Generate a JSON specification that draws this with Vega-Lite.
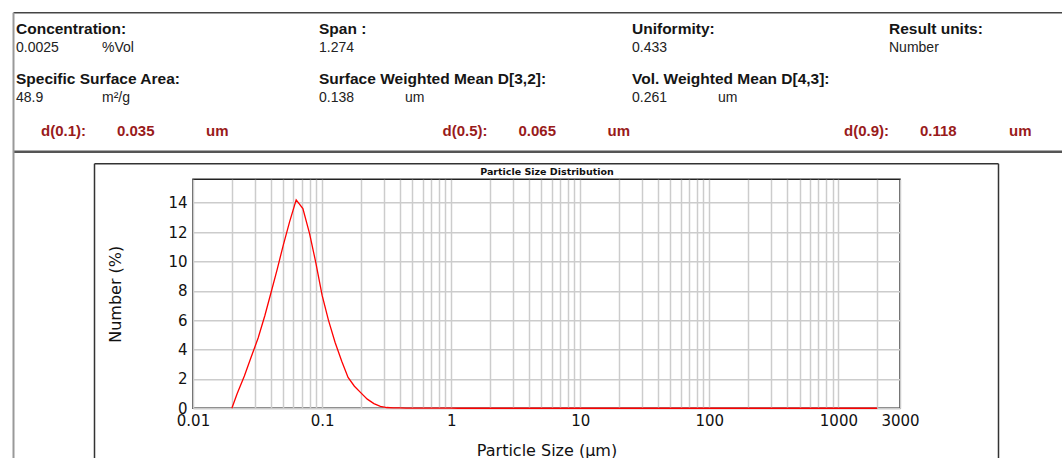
{
  "$schema": "https://vega.github.io/schema/vega-lite/v6.json",
  "background": "white",
  "padding": {"left": 13, "top": 12.25, "right": -7, "bottom": -12},
  "width": 707,
  "height": 229,
  "config": {"view": {"stroke": "#222222", "strokeWidth": 1.5}, "font": "DejaVu Sans"},
  "datasets": {
    "stats": [
      {"col": 0, "block": 0, "label": "Concentration:", "value": "0.0025", "unit": "%Vol"},
      {"col": 1, "block": 0, "label": "Span :", "value": "1.274"},
      {"col": 2, "block": 0, "label": "Uniformity:", "value": "0.433"},
      {"col": 3, "block": 0, "label": "Result units:", "value": "Number"},
      {"col": 0, "block": 1, "label": "Specific Surface Area:", "value": "48.9", "unit": "m²/g"},
      {"col": 1, "block": 1, "label": "Surface Weighted Mean D[3,2]:", "value": "0.138", "unit": "um"},
      {"col": 2, "block": 1, "label": "Vol. Weighted Mean D[4,3]:", "value": "0.261", "unit": "um"}
    ],
    "quantiles": [
      {"quantile": 0.1, "block": 2, "label": "d(0.1):", "value": "0.035", "unit": "um"},
      {"quantile": 0.5, "block": 2, "label": "d(0.5):", "value": "0.065", "unit": "um"},
      {"quantile": 0.9, "block": 2, "label": "d(0.9):", "value": "0.118", "unit": "um"}
    ],
    "psd": [
      {"size": 0.020, "number": 0}, {"size": 0.022, "number": 1.0}, {"size": 0.025, "number": 2.2},
      {"size": 0.028, "number": 3.4}, {"size": 0.032, "number": 4.8}, {"size": 0.036, "number": 6.3},
      {"size": 0.040, "number": 7.8}, {"size": 0.045, "number": 9.5}, {"size": 0.050, "number": 11.1},
      {"size": 0.056, "number": 12.7}, {"size": 0.063, "number": 14.2}, {"size": 0.071, "number": 13.6},
      {"size": 0.080, "number": 11.9}, {"size": 0.089, "number": 10.0}, {"size": 0.100, "number": 7.7},
      {"size": 0.112, "number": 6.0}, {"size": 0.126, "number": 4.5}, {"size": 0.142, "number": 3.2},
      {"size": 0.159, "number": 2.1}, {"size": 0.178, "number": 1.5}, {"size": 0.200, "number": 1.05},
      {"size": 0.224, "number": 0.62}, {"size": 0.252, "number": 0.32}, {"size": 0.283, "number": 0.13},
      {"size": 0.317, "number": 0.05}, {"size": 0.356, "number": 0.03}, {"size": 0.399, "number": 0.02},
      {"size": 0.448, "number": 0.01}, {"size": 0.502, "number": 0.01}, {"size": 0.564, "number": 0.01},
      {"size": 0.632, "number": 0.01}, {"size": 0.710, "number": 0.01}, {"size": 0.796, "number": 0.01},
      {"size": 0.893, "number": 0.01}, {"size": 1.002, "number": 0.01}, {"size": 1.125, "number": 0},
      {"size": 1.262, "number": 0}, {"size": 1.416, "number": 0}, {"size": 1.589, "number": 0},
      {"size": 1.783, "number": 0}, {"size": 2.000, "number": 0}, {"size": 2.244, "number": 0},
      {"size": 2.518, "number": 0}, {"size": 2.825, "number": 0}, {"size": 3.170, "number": 0},
      {"size": 3.557, "number": 0}, {"size": 3.991, "number": 0}, {"size": 4.477, "number": 0},
      {"size": 5.024, "number": 0}, {"size": 5.637, "number": 0}, {"size": 6.325, "number": 0},
      {"size": 7.096, "number": 0}, {"size": 7.962, "number": 0}, {"size": 8.934, "number": 0},
      {"size": 10.024, "number": 0}, {"size": 11.247, "number": 0}, {"size": 12.619, "number": 0},
      {"size": 14.159, "number": 0}, {"size": 15.887, "number": 0}, {"size": 17.825, "number": 0},
      {"size": 20.0, "number": 0}, {"size": 22.44, "number": 0}, {"size": 25.179, "number": 0},
      {"size": 28.251, "number": 0}, {"size": 31.698, "number": 0}, {"size": 35.566, "number": 0},
      {"size": 39.905, "number": 0}, {"size": 44.774, "number": 0}, {"size": 50.238, "number": 0},
      {"size": 56.368, "number": 0}, {"size": 63.246, "number": 0}, {"size": 70.963, "number": 0},
      {"size": 79.621, "number": 0}, {"size": 89.337, "number": 0}, {"size": 100.237, "number": 0},
      {"size": 112.468, "number": 0}, {"size": 126.191, "number": 0}, {"size": 141.589, "number": 0},
      {"size": 158.866, "number": 0}, {"size": 178.25, "number": 0}, {"size": 200.0, "number": 0},
      {"size": 224.404, "number": 0}, {"size": 251.785, "number": 0}, {"size": 282.508, "number": 0},
      {"size": 316.979, "number": 0}, {"size": 355.656, "number": 0}, {"size": 399.052, "number": 0},
      {"size": 447.744, "number": 0}, {"size": 502.377, "number": 0}, {"size": 563.677, "number": 0},
      {"size": 632.456, "number": 0}, {"size": 709.627, "number": 0}, {"size": 796.214, "number": 0},
      {"size": 893.367, "number": 0}, {"size": 1002.374, "number": 0}, {"size": 1124.683, "number": 0},
      {"size": 1261.915, "number": 0}, {"size": 1415.892, "number": 0}, {"size": 1588.656, "number": 0},
      {"size": 1782.502, "number": 0}, {"size": 2000.0, "number": 0}
    ]
  },
  "layer": [
    {
      "data": {"name": "psd"},
      "mark": {"type": "line", "color": "#ff0000", "strokeWidth": 1.3},
      "encoding": {
        "x": {
          "field": "size", "type": "quantitative",
          "scale": {"type": "log", "domain": [0.01, 3000]},
          "axis": {
            "orient": "bottom",
            "values": [0.01, 0.02, 0.03, 0.04, 0.05, 0.06, 0.07, 0.08, 0.09, 0.1, 0.2, 0.3, 0.4, 0.5, 0.6, 0.7, 0.8, 0.9, 1, 2, 3, 4, 5, 6, 7, 8, 9, 10, 20, 30, 40, 50, 60, 70, 80, 90, 100, 200, 300, 400, 500, 600, 700, 800, 900, 1000, 2000, 3000],
            "labelExpr": "indexof([0.01, 0.1, 1, 10, 100, 1000, 3000], datum.value) >= 0 ? format(datum.value, '~g') : ''",
            "grid": true, "gridColor": "#cccccc", "gridWidth": 1.5,
            "ticks": false, "domain": false,
            "labelFont": "DejaVu Sans", "labelFontSize": 15, "labelColor": "#111111", "labelPadding": 5,
            "labelFlush": false, "labelOverlap": false,
            "title": "Particle Size (μm)", "titleFont": "DejaVu Sans", "titleFontSize": 16, "titleFontWeight": "normal", "titleColor": "#111111", "titlePadding": 14
          }
        },
        "y": {
          "field": "number", "type": "quantitative",
          "scale": {"domain": [0, 15.6]},
          "axis": {
            "orient": "left",
            "values": [0, 2, 4, 6, 8, 10, 12, 14], "format": "d",
            "grid": true, "gridColor": "#cccccc", "gridWidth": 1.5,
            "ticks": false, "domain": false,
            "labelFont": "DejaVu Sans", "labelFontSize": 15, "labelColor": "#111111", "labelPadding": 6,
            "labelOverlap": false,
            "title": "Number (%)", "titleFont": "DejaVu Sans", "titleFontSize": 16, "titleFontWeight": "normal", "titleColor": "#111111", "titlePadding": 44
          }
        }
      }
    },
    {
      "data": {"name": "psd"},
      "mark": {"type": "point", "opacity": 0},
      "encoding": {
        "x": {
          "field": "size", "type": "quantitative",
          "scale": {"type": "log", "domain": [0.01, 3000]},
          "axis": {"orient": "top", "labels": false, "ticks": false, "grid": false, "domain": false,
                   "title": "Particle Size Distribution", "titleFont": "DejaVu Sans", "titleFontSize": 9.5, "titleFontWeight": "bold", "titleColor": "#111111", "titlePadding": 3}
        },
        "y": {"field": "number", "type": "quantitative", "scale": {"domain": [0, 15.6]}, "axis": null}
      }
    },
    {
      "data": {"name": "psd"},
      "mark": {"type": "point", "opacity": 0},
      "encoding": {
        "x": {
          "field": "size", "type": "quantitative",
          "scale": {"type": "log", "domain": [0.01, 3000], "range": [-180, 875]},
          "axis": {"orient": "top", "offset": 167, "labels": false, "ticks": false, "grid": false, "domain": true, "domainColor": "#444444", "domainWidth": 1.5, "title": null}
        },
        "y": {
          "field": "number", "type": "quantitative",
          "scale": {"domain": [0, 15.6], "range": [290, -167]},
          "axis": {"orient": "left", "offset": 180, "labels": false, "ticks": false, "grid": false, "domain": true, "domainColor": "#999999", "domainWidth": 2, "title": null}
        }
      }
    },
    {
      "data": {"name": "psd"},
      "mark": {"type": "point", "opacity": 0},
      "encoding": {
        "x": {
          "field": "size", "type": "quantitative",
          "scale": {"type": "log", "domain": [0.01, 3000], "range": [-180, 875]},
          "axis": {"orient": "top", "offset": 28, "labels": false, "ticks": false, "grid": false, "domain": true, "domainColor": "#555555", "domainWidth": 2.5, "title": null}
        },
        "y": {
          "field": "number", "type": "quantitative",
          "scale": {"domain": [0, 15.6], "range": [290, -16]},
          "axis": {"orient": "left", "offset": 99, "labels": false, "ticks": false, "grid": false, "domain": true, "domainColor": "#333333", "domainWidth": 1.5, "title": null}
        }
      }
    },
    {
      "data": {"name": "psd"},
      "mark": {"type": "point", "opacity": 0},
      "encoding": {
        "x": {
          "field": "size", "type": "quantitative",
          "scale": {"type": "log", "domain": [0.01, 3000], "range": [-99, 805]},
          "axis": {"orient": "top", "offset": 16, "labels": false, "ticks": false, "grid": false, "domain": true, "domainColor": "#333333", "domainWidth": 1.5, "title": null}
        },
        "y": {
          "field": "number", "type": "quantitative",
          "scale": {"domain": [0, 15.6], "range": [290, -16]},
          "axis": {"orient": "right", "offset": 98, "labels": false, "ticks": false, "grid": false, "domain": true, "domainColor": "#333333", "domainWidth": 1.5, "title": null}
        }
      }
    },
    {
      "data": {"name": "stats"},
      "mark": {"type": "text", "align": "left", "baseline": "middle", "font": "Liberation Sans", "fontSize": 15.5, "fontWeight": "bold", "color": "#151515"},
      "encoding": {
        "x": {"field": "col", "type": "quantitative", "scale": {"domain": [0, 1, 2, 3], "range": [-177, 126, 439, 696]}, "axis": null},
        "y": {"field": "block", "type": "quantitative", "scale": {"domain": [0, 1, 2], "range": [-150, -100, -48]}, "axis": null},
        "text": {"field": "label"}
      }
    },
    {
      "data": {"name": "stats"},
      "mark": {"type": "text", "align": "left", "baseline": "middle", "dy": 19, "font": "Liberation Sans", "fontSize": 14, "color": "#222222"},
      "encoding": {
        "x": {"field": "col", "type": "quantitative", "scale": {"domain": [0, 1, 2, 3], "range": [-177, 126, 439, 696]}, "axis": null},
        "y": {"field": "block", "type": "quantitative", "scale": {"domain": [0, 1, 2], "range": [-150, -100, -48]}, "axis": null},
        "text": {"field": "value"}
      }
    },
    {
      "data": {"name": "stats"},
      "transform": [{"filter": "isValid(datum.unit)"}],
      "mark": {"type": "text", "align": "left", "baseline": "middle", "dx": 86, "dy": 19, "font": "Liberation Sans", "fontSize": 14, "color": "#222222"},
      "encoding": {
        "x": {"field": "col", "type": "quantitative", "scale": {"domain": [0, 1, 2, 3], "range": [-177, 126, 439, 696]}, "axis": null},
        "y": {"field": "block", "type": "quantitative", "scale": {"domain": [0, 1, 2], "range": [-150, -100, -48]}, "axis": null},
        "text": {"field": "unit"}
      }
    },
    {
      "data": {"name": "quantiles"},
      "mark": {"type": "text", "align": "left", "baseline": "middle", "font": "Liberation Sans", "fontSize": 15, "fontWeight": "bold", "color": "#991b1b"},
      "encoding": {
        "x": {"field": "quantile", "type": "quantitative", "scale": {"domain": [0.1, 0.9], "range": [-152, 651]}, "axis": null},
        "y": {"field": "block", "type": "quantitative", "scale": {"domain": [0, 1, 2], "range": [-150, -100, -48]}, "axis": null},
        "text": {"field": "label"}
      }
    },
    {
      "data": {"name": "quantiles"},
      "mark": {"type": "text", "align": "left", "baseline": "middle", "dx": 76, "font": "Liberation Sans", "fontSize": 15, "fontWeight": "bold", "color": "#991b1b"},
      "encoding": {
        "x": {"field": "quantile", "type": "quantitative", "scale": {"domain": [0.1, 0.9], "range": [-152, 651]}, "axis": null},
        "y": {"field": "block", "type": "quantitative", "scale": {"domain": [0, 1, 2], "range": [-150, -100, -48]}, "axis": null},
        "text": {"field": "value"}
      }
    },
    {
      "data": {"name": "quantiles"},
      "mark": {"type": "text", "align": "left", "baseline": "middle", "dx": 165, "font": "Liberation Sans", "fontSize": 15, "fontWeight": "bold", "color": "#991b1b"},
      "encoding": {
        "x": {"field": "quantile", "type": "quantitative", "scale": {"domain": [0.1, 0.9], "range": [-152, 651]}, "axis": null},
        "y": {"field": "block", "type": "quantitative", "scale": {"domain": [0, 1, 2], "range": [-150, -100, -48]}, "axis": null},
        "text": {"field": "unit"}
      }
    }
  ],
  "resolve": {"scale": {"x": "independent", "y": "independent"}}
}
